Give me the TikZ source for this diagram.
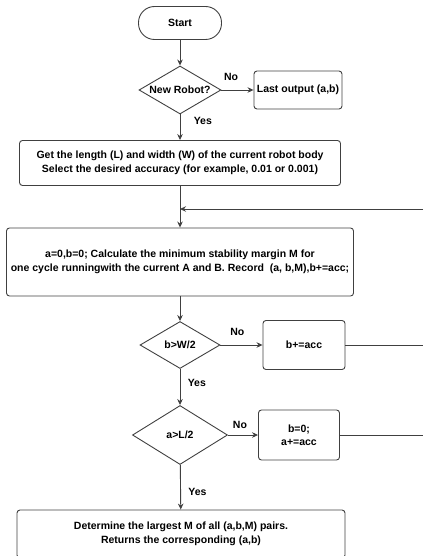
\documentclass[tikz,border=0pt]{standalone}
\usepackage{fontspec}
\setmainfont{Liberation Sans}
\usetikzlibrary{shapes,positioning,arrows.meta}

\begin{document}
\begin{tikzpicture}[x=1pt,y=-1pt,
    every node/.style={font=\bfseries\fontsize{10.5}{13.5}\selectfont},
    box/.style={rectangle,draw=black!75,line width=0.9pt,rounded corners=3pt,align=center,inner sep=2pt},
    test/.style={diamond,draw=black!75,line width=0.9pt,inner sep=0pt,align=center,aspect=1.7},
    term/.style={rectangle,draw=black!75,line width=0.9pt,rounded corners=16pt,minimum width=83pt,minimum height=33pt},
    flow/.style={draw=black!75,line width=0.9pt,-{Stealth[length=6pt,width=5.5pt]}},
    edge/.style={draw=black!75,line width=0.9pt}]
    \useasboundingbox (0,0) rectangle (423,556);
    \clip (0,0) rectangle (423,556);
    % nodes
    \node[term] (start) at (180,23) {Start};
    \node[test,minimum width=82pt,minimum height=48pt] (robot) at (180,90) {New Robot?};
    \node[box,minimum width=88pt,minimum height=38pt] (last) at (298,90) {Last output (a,b)};
    \node[box,minimum width=321pt,minimum height=45pt] (init) at (180,163)
      {Get the length (L) and width (W) of the current robot body\\Select the desired accuracy (for example, 0.01 or 0.001)};
    \node[box,minimum width=347pt,minimum height=68pt] (calc) at (180,262)
      {a=0,b=0; Calculate the minimum stability margin M for\\one cycle runningwith the current A and B. Record~~(a, b,M),b+=acc;};
    \node[test,minimum width=80pt,minimum height=47pt] (wtest) at (180,345) {b>W/2};
    \node[box,minimum width=82pt,minimum height=49pt] (incb) at (304,345) {b+=acc};
    \node[test,aspect=1.6,minimum width=95pt,minimum height=59pt] (ltest) at (180,435) {a>L/2};
    \node[box,minimum width=81pt,minimum height=50pt] (inca) at (299,435) {b=0;\\a+=acc};
    \node[box,minimum width=328pt,minimum height=48pt] (result) at (181,534)
      {Determine the largest M of all (a,b,M) pairs.\\Returns the corresponding (a,b)};
    \coordinate (join) at (180,209);
    \coordinate (rim) at (423,209);
    % connectors
    \path[flow] (start) -- (robot);
    \path[flow] (robot) -- node[pos=0.3,above=6pt] {No} (last);
    \path[flow] (robot) -- node[pos=0.25,right=10pt] {Yes} (init);
    \path[flow] (init) -- (calc);
    \path[flow] (rim) -- (join);
    \path[flow] (calc) -- (wtest);
    \path[flow] (wtest) -- node[pos=0.4,above=6pt] {No} (incb);
    \path[edge] (incb) -- (incb -| rim);
    \path[flow] (wtest) -- node[pos=0.4,right=4pt] {Yes} (ltest);
    \path[flow] (ltest) -- node[pos=0.4,above=3pt] {No} (inca);
    \path[edge] (inca) -- (inca -| rim);
    \path[flow] (ltest) -- node[pos=0.6,right=4pt] {Yes} (result);
\end{tikzpicture}
\end{document}
